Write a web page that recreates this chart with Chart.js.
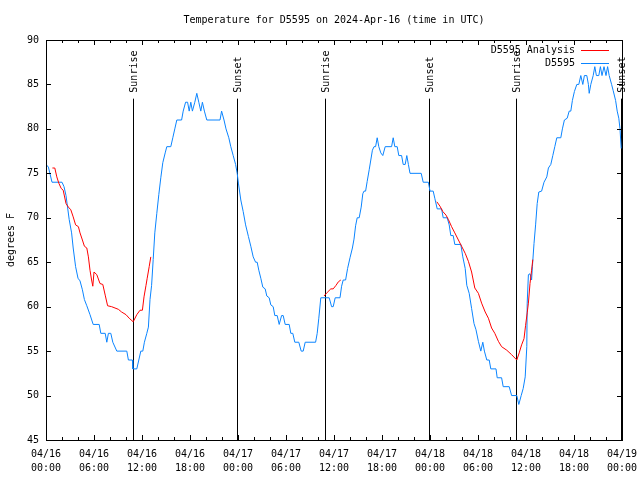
<!DOCTYPE html>
<html>
<head>
<meta charset="utf-8">
<title>Temperature for D5595</title>
<script src="https://cdn.jsdelivr.net/npm/chart.js@4.4.1/dist/chart.umd.min.js"></script>
<style>
  html, body { margin: 0; padding: 0; background: #fff; }
  canvas { display: block; }
</style>
</head>
<body>
<canvas id="tempChart" width="640" height="480"></canvas>
<script>
// hours since 04/16 00:00 UTC
const obsHours = [0,0.3,0.75,2.0,2.25,2.5,2.9,3.2,3.4,3.7,4.0,4.25,4.55,4.8,5.1,5.5,5.9,6.65,6.85,7.4,7.6,7.8,8.1,8.35,8.85,10.1,10.3,10.8,10.85,11.35,11.6,11.85,12.1,12.3,12.6,12.8,13.0,13.2,13.4,13.6,13.85,14.1,14.35,14.6,14.9,15.1,15.6,15.85,16.1,16.35,16.95,17.15,17.45,17.7,17.9,18.1,18.3,18.6,18.85,19.1,19.35,19.55,19.8,20.1,21.75,21.95,22.25,22.5,22.85,23.1,23.4,23.7,23.9,24.05,24.35,24.65,24.95,25.3,25.6,25.9,26.2,26.4,26.6,26.85,27.1,27.4,27.6,27.9,28.1,28.4,28.6,28.9,29.15,29.45,29.65,29.9,30.4,30.6,30.85,31.1,31.6,31.9,32.15,32.4,33.7,33.9,34.1,34.35,35.4,35.7,35.9,36.15,36.75,36.95,37.15,37.45,37.7,38.0,38.3,38.5,38.7,38.9,39.15,39.4,39.6,39.75,39.95,40.15,40.4,40.6,40.8,41.0,41.2,41.4,41.6,41.85,42.1,42.4,43.2,43.4,43.6,43.9,44.1,44.45,44.65,44.9,45.1,45.3,45.5,46.9,47.15,47.8,48.0,48.4,48.6,48.9,49.45,49.65,50.15,50.4,50.6,50.9,51.1,51.85,52.1,52.4,52.6,52.9,53.2,53.5,53.75,54.05,54.35,54.6,54.8,55.1,55.4,55.6,56.25,56.4,56.95,57.15,57.9,58.2,58.85,59.1,59.4,59.65,59.9,60.1,60.15,60.3,60.5,60.7,60.8,61.0,61.2,61.4,61.6,61.95,62.25,62.6,62.8,63.1,63.35,63.6,63.85,64.35,64.55,64.8,65.15,65.4,65.6,65.8,66.05,66.35,66.6,66.85,67.1,67.3,67.6,67.8,67.9,68.1,68.4,68.6,68.8,69.1,69.3,69.5,69.75,70.0,70.2,70.4,70.7,70.9,71.2,71.4,71.6,71.75,71.9];
const obsTemps = [76,75.7,74,74,73.5,72.5,69.8,68.3,66.6,64.5,63.2,62.9,61.9,60.8,60.1,59.1,58,58,57,57,56,57,57,56,55,55,54,54,53,53,54,55,55,56,57,57.7,60.8,62.4,65.3,68.3,70.5,72.6,74.5,76.2,77.3,78,78,79,80,81,81,82,83,83,82,83,82,83,84,83,82,83,82,81,81,82,81,80,79,78,77,76,75,73.9,72,70.7,69.2,67.9,66.8,65.6,65,65,64.1,63.2,62.2,62,61.2,61,60.2,60,59,59,58,59,59,58,58,57,57,56,56,55,55,56,56,57,58.7,61,61,60,60,61,61,62.3,63,63,64.3,65.5,66.6,67.6,69.1,70,70,71.2,72.7,73,73,74.1,75.4,76.5,77.6,78,78,79,78,77.3,77,78,78,79,78,78,77,77,76,76,77,76,75,75,74,74,73,73,72.2,71,71,70,70,69.2,68,68,67,67,65.6,64.3,62.4,61.5,59.8,58.1,57.4,56.1,55,56,55,54,54,53,53,52,52,51,51,50,50,49,50,50.8,52.1,55.5,60.4,63.6,63.7,63,64.5,67.1,69.2,71.6,72.9,73,74,74.6,75.6,76,77,78,79,79,80,81,81.2,82,82,83.2,84.2,85,85,86,85,86,86,85,84,85,86,87,86,86,87,86,87,86,87,86,85,84.3,83.2,82,81.2,80,77.8];

// analysis series, null = no analysis
const anaHours = [0.8,1.1,1.35,1.6,1.9,2.15,2.5,2.8,3.1,3.4,3.7,4.05,4.25,4.55,4.8,5.1,5.3,5.5,5.7,5.85,6.0,6.35,6.75,7.1,7.4,7.7,8.2,9.05,9.45,10.0,10.4,10.9,11.35,11.75,12.05,12.25,12.5,12.65,12.9,13.1,
  20,
  34.75,35.15,35.6,35.9,36.25,36.55,36.85,
  42,
  48.85,49.25,49.6,50.0,50.3,50.7,51.1,51.55,51.95,52.4,52.8,53.2,53.6,54.05,54.45,54.9,55.3,55.7,56.1,56.55,56.95,57.6,58.2,58.85,59.15,59.45,59.75,59.95,60.15,60.3,60.5,60.7,60.85];
const anaTemps = [75.6,75.6,74.6,73.9,73.3,73.1,71.6,71.2,70.9,70.1,69.2,69,68.3,67.5,66.8,66.6,65.6,64.1,63,62.3,63.9,63.6,62.6,62.5,61.3,60.1,60,59.7,59.4,59.1,58.7,58.3,59.1,59.6,59.6,61.1,62.4,63.2,64.5,65.6,
  null,
  61.2,61.6,62,62,62.4,62.8,63,
  null,
  71.8,71.3,70.7,70.3,69.8,69,68.3,67.5,66.8,66,65.1,63.9,62.1,61.5,60.4,59.4,58.7,57.6,57,56.1,55.5,55.1,54.6,54,54.8,55.7,56.4,57.9,59.3,60.4,62.6,64.1,65.3];

const sunHours = [10.87, 23.87, 34.87, 47.87, 58.75, 71.87];
const sunLabels = ['Sunrise', 'Sunset', 'Sunrise', 'Sunset', 'Sunrise', 'Sunset'];

const xTickLabels = [
  ['04/16', '00:00'], ['04/16', '06:00'], ['04/16', '12:00'], ['04/16', '18:00'],
  ['04/17', '00:00'], ['04/17', '06:00'], ['04/17', '12:00'], ['04/17', '18:00'],
  ['04/18', '00:00'], ['04/18', '06:00'], ['04/18', '12:00'], ['04/18', '18:00'],
  ['04/19', '00:00']
];

const MONO = "'DejaVu Sans Mono', 'Liberation Mono', monospace";
Chart.defaults.font.family = MONO;
Chart.defaults.font.size = 10;
Chart.defaults.color = '#000';

const toPoints = (xs, ys) => xs.map((x, i) => ({ x: x, y: ys[i] }));

// gnuplot look: box border, inward ticks, sun markers, legend in the corner
const gnuplotFrame = {
    id: 'gnuplotFrame',
    beforeDatasetsDraw(chart) {
        const ctx = chart.ctx;
        const xs = chart.scales.x, ys = chart.scales.y;
        const yTop = ys.getPixelForValue(83.4);
        ctx.save();
        ctx.strokeStyle = '#000';
        ctx.lineWidth = 1;
        ctx.fillStyle = '#000';
        ctx.font = '10px ' + MONO;
        sunHours.forEach((h, i) => {
            const px = Math.round(xs.getPixelForValue(h)) + 0.5;
            ctx.beginPath();
            ctx.moveTo(px, yTop);
            ctx.lineTo(px, chart.chartArea.bottom);
            ctx.stroke();
            ctx.save();
            ctx.translate(px + 1, yTop - 6);
            ctx.rotate(-Math.PI / 2);
            ctx.textAlign = 'left';
            ctx.textBaseline = 'middle';
            ctx.fillText(sunLabels[i], 0, 0);
            ctx.restore();
        });
        ctx.restore();
    },
    afterDraw(chart) {
        const ctx = chart.ctx;
        const xs = chart.scales.x, ys = chart.scales.y;
        const { left, right, top, bottom } = chart.chartArea;
        ctx.save();
        ctx.strokeStyle = '#000';
        ctx.lineWidth = 1;
        ctx.strokeRect(left + 0.5, top + 0.5, right - left, bottom - top);
        ctx.beginPath();
        for (let h = xs.min; h <= xs.max; h += 2) {
            const px = Math.round(xs.getPixelForValue(h)) + 0.5;
            const len = h % 6 === 0 ? 5 : 3;
            ctx.moveTo(px, bottom); ctx.lineTo(px, bottom - len);
            ctx.moveTo(px, top); ctx.lineTo(px, top + len);
        }
        ys.ticks.forEach(t => {
            const py = Math.round(ys.getPixelForValue(t.value)) + 0.5;
            ctx.moveTo(left, py); ctx.lineTo(left + 5, py);
            ctx.moveTo(right, py); ctx.lineTo(right - 5, py);
        });
        ctx.stroke();

        // legend
        ctx.font = '10px ' + MONO;
        ctx.textAlign = 'right';
        ctx.textBaseline = 'middle';
        chart.data.datasets.forEach((ds, i) => {
            const ly = Math.round(top + 10 + i * 12.5) + 0.5;
            ctx.fillStyle = '#000';
            ctx.fillText(ds.label, right - 47, ly);
            ctx.strokeStyle = ds.borderColor;
            ctx.beginPath();
            ctx.moveTo(right - 41, ly);
            ctx.lineTo(right - 13, ly);
            ctx.stroke();
        });
        ctx.restore();
    }
};

new Chart(document.getElementById('tempChart'), {
    type: 'line',
    data: {
        datasets: [{
            label: 'D5595 Analysis',
            data: toPoints(anaHours, anaTemps),
            borderColor: '#ff0000',
            borderWidth: 1,
            pointRadius: 0,
            spanGaps: false,
            tension: 0
        }, {
            label: 'D5595',
            data: toPoints(obsHours, obsTemps),
            borderColor: '#0a84ff',
            borderWidth: 1,
            pointRadius: 0,
            tension: 0
        }]
    },
    options: {
        responsive: false,
        devicePixelRatio: 1,
        animation: false,
        layout: { padding: { left: 0, right: 18, top: 0, bottom: 0 } },
        plugins: {
            legend: { display: false },
            tooltip: { enabled: false },
            title: {
                display: true,
                fullSize: false,
                text: 'Temperature for D5595 on 2024-Apr-16 (time in UTC)',
                font: { family: MONO, size: 10, weight: 'normal' },
                color: '#000',
                padding: { top: 14, bottom: 14 }
            }
        },
        scales: {
            x: {
                type: 'linear',
                min: 0,
                max: 72,
                grid: { display: false, drawTicks: false },
                border: { display: false },
                ticks: {
                    stepSize: 6,
                    autoSkip: false,
                    maxRotation: 0,
                    padding: 7,
                    font: { family: MONO, size: 10, lineHeight: 1.4 },
                    callback: v => xTickLabels[Math.round(v / 6)]
                },
                afterFit: s => { s.height = 40; s.paddingLeft = 0; s.paddingRight = 0; }
            },
            y: {
                min: 45,
                max: 90,
                grid: { display: false, drawTicks: false },
                border: { display: false },
                ticks: { stepSize: 5, padding: 7, font: { family: MONO, size: 10 } },
                title: {
                    display: true,
                    text: 'degrees F',
                    font: { family: MONO, size: 10 },
                    padding: { top: 5, bottom: 0 }
                },
                afterFit: s => { s.width = 46; s.paddingTop = 0; s.paddingBottom = 0; }
            }
        }
    },
    plugins: [gnuplotFrame]
});
</script>
</body>
</html>
